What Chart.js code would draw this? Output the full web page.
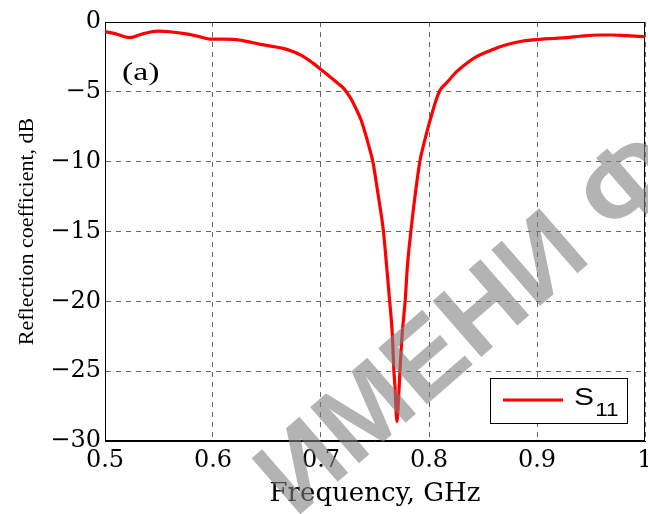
<!DOCTYPE html>
<html>
<head>
<meta charset="utf-8">
<script src="https://cdn.jsdelivr.net/npm/chart.js@4"></script>
<style>
  html, body { margin: 0; padding: 0; background: #fff; }
  #wrap { width: 648px; height: 514px; position: relative; }
</style>
</head>
<body>
<div id="wrap"><canvas id="s11Chart"></canvas></div>
<script>
// values (frequency in GHz, S11 in dB)
const freq = [
    0.500, 0.510, 0.523, 0.535, 0.549, 0.560, 0.572, 0.585, 0.597, 0.619,
    0.632, 0.644, 0.655, 0.665, 0.675, 0.681, 0.690, 0.700, 0.708, 0.715,
    0.721, 0.727, 0.733, 0.737, 0.741, 0.7440, 0.7480, 0.7516, 0.7540, 0.7577,
    0.7608, 0.7636, 0.7660, 0.7675, 0.7685, 0.7703, 0.7718, 0.7731, 0.7752, 0.7779,
    0.7800, 0.7832, 0.7875, 0.7915, 0.7950, 0.7990, 0.8030, 0.8065, 0.810, 0.817,
    0.8256, 0.835, 0.844, 0.855, 0.8657, 0.877, 0.887, 0.903, 0.915, 0.9275,
    0.940, 0.958, 0.970, 0.983, 1.000
];
const s11 = [
    -0.69, -0.85, -1.12, -0.85, -0.66, -0.70, -0.81, -1.00, -1.22, -1.24,
    -1.40, -1.60, -1.75, -1.89, -2.15, -2.36, -2.80, -3.40, -3.90, -4.35,
    -4.75, -5.40, -6.30, -7.00, -7.97, -8.80, -10.0, -11.7, -12.9, -14.9,
    -17.5, -20.0, -22.3, -25.0, -26.1, -28.6, -27.0, -25.0, -22.3, -20.0,
    -17.5, -15.0, -12.2, -10.0, -8.80, -7.60, -6.50, -5.60, -4.92, -4.30,
    -3.56, -2.95, -2.48, -2.10, -1.77, -1.52, -1.36, -1.24, -1.18, -1.12,
    -1.02, -0.93, -0.93, -0.98, -1.05
];

const xTickValues = [0.5, 0.6, 0.7, 0.8, 0.9, 1];
const xTickLabels = ['0.5', '0.6', '0.7', '0.8', '0.9', '1'];
const yTickValues = [0, -5, -10, -15, -20, -25, -30];
const yTickLabels = ['0', '\u22125', '\u221210', '\u221215', '\u221220', '\u221225', '\u221230'];

const seriesLabel = 'S11';
const panelLabel = '(a)';
const watermarkText = 'ИМЕНИ Ф';

const serif = "'Liberation Serif', 'Times New Roman', serif";
const wideSerif = "'DejaVu Serif', serif";
const sans = "'Liberation Sans', Arial, sans-serif";

// frame on all four sides, like the matlab box
const boxPlugin = {
    id: 'boxPlugin',
    beforeDatasetsDraw(chart) {
        const { ctx, chartArea } = chart;
        ctx.save();
        ctx.strokeStyle = '#000';
        ctx.lineWidth = 1;
        ctx.strokeRect(chartArea.left + 0.5, chartArea.top + 0.5,
            chartArea.right - chartArea.left - 1, chartArea.bottom - chartArea.top - 1);
        ctx.restore();
    }
};

// panel label, legend box with subscript and the watermark
const extrasPlugin = {
    id: 'extrasPlugin',
    afterDraw(chart) {
        const { ctx, chartArea } = chart;
        ctx.save();

        // the source picture is stretched sideways, so stretch the text too
        ctx.save();
        ctx.translate(chartArea.left + 17, chartArea.top + 51);
        ctx.scale(1.3, 1);
        ctx.fillStyle = '#000';
        ctx.font = '26px ' + serif;
        ctx.textBaseline = 'middle';
        ctx.textAlign = 'left';
        ctx.fillText(panelLabel, 0, 0);
        ctx.restore();

        // legend
        let bw = 137, bh = 45;
        let bx = chartArea.right - 18 - bw;
        let by = chartArea.bottom - 18 - bh;
        ctx.fillStyle = '#fff';
        ctx.fillRect(bx, by, bw, bh);
        ctx.strokeStyle = '#000';
        ctx.lineWidth = 1;
        ctx.strokeRect(bx + 0.5, by + 0.5, bw, bh);
        ctx.strokeStyle = '#ff0000';
        ctx.lineWidth = 3;
        ctx.beginPath();
        ctx.moveTo(bx + 13, by + 22);
        ctx.lineTo(bx + 73, by + 22);
        ctx.stroke();

        ctx.save();
        ctx.translate(bx + 84, 0);
        ctx.scale(1.25, 1);
        ctx.fillStyle = '#000';
        ctx.textBaseline = 'alphabetic';
        ctx.textAlign = 'left';
        ctx.font = '24px ' + sans;
        ctx.fillText(seriesLabel.charAt(0), 0, by + 27);
        let sw = ctx.measureText(seriesLabel.charAt(0)).width;
        ctx.font = '18px ' + sans;
        ctx.fillText(seriesLabel.slice(1), sw + 1, by + 38);
        ctx.restore();

        // watermark on top
        ctx.translate(295, 519);
        ctx.rotate(-41 * Math.PI / 180);
        ctx.font = 'bold 108px ' + sans;
        ctx.fillStyle = 'rgba(128,128,128,0.6)';
        ctx.textBaseline = 'alphabetic';
        ctx.fillText(watermarkText, 0, 0);
        ctx.restore();
    }
};

const ctx = document.getElementById('s11Chart');

new Chart(ctx, {
    type: 'line',
    data: {
        datasets: [{
            label: seriesLabel,
            data: freq.map((f, i) => ({ x: f, y: s11[i] })),
            borderColor: '#ff0000',
            borderWidth: 3.2,
            pointRadius: 0,
            cubicInterpolationMode: 'monotone',
            fill: false
        }]
    },
    options: {
        responsive: true,
        maintainAspectRatio: false,
        animation: false,
        layout: { padding: { top: 22, right: 3, left: 0, bottom: 0 } },
        plugins: {
            legend: { display: false },
            tooltip: { enabled: false }
        },
        scales: {
            x: {
                type: 'linear',
                min: 0.5,
                max: 1,
                afterBuildTicks: s => { s.ticks = xTickValues.map(v => ({ value: v })); },
                afterFit: s => { s.height = 73; s.paddingLeft = 0; s.paddingRight = 0; },
                ticks: {
                    autoSkip: false,
                    maxRotation: 0,
                    padding: 5,
                    color: '#000',
                    font: { family: wideSerif, size: 24 },
                    callback: (v) => xTickLabels[xTickValues.findIndex(t => Math.abs(t - v) < 1e-6)]
                },
                grid: { color: '#666', lineWidth: 1, drawTicks: false },
                border: { color: '#000', width: 1, dash: [5, 5] },
                title: {
                    display: true,
                    text: 'Frequency, GHz',
                    color: '#000',
                    font: { family: wideSerif, size: 26 },
                    padding: { top: 0, bottom: 4 }
                }
            },
            y: {
                min: -30,
                max: 0,
                afterBuildTicks: s => { s.ticks = yTickValues.map(v => ({ value: v })); },
                afterFit: s => { s.width = 105; s.paddingTop = 0; s.paddingBottom = 0; },
                ticks: {
                    autoSkip: false,
                    padding: 4,
                    color: '#000',
                    font: { family: wideSerif, size: 24 },
                    callback: (v) => yTickLabels[yTickValues.findIndex(t => Math.abs(t - v) < 1e-6)]
                },
                grid: { color: '#666', lineWidth: 1, drawTicks: false },
                border: { color: '#000', width: 1, dash: [5, 5] },
                title: {
                    display: true,
                    text: 'Reflection coefficient, dB',
                    color: '#000',
                    font: { family: serif, size: 22 },
                    padding: { top: 14, bottom: 0 }
                }
            }
        }
    },
    plugins: [boxPlugin, extrasPlugin]
});
</script>
</body>
</html>
